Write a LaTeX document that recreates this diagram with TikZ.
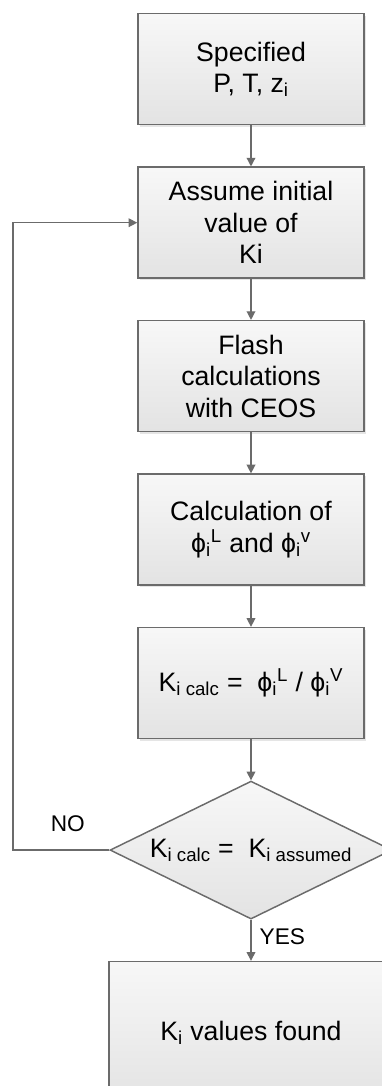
\documentclass[tikz,border=0pt]{standalone}
\usepackage{fontspec}
\setmainfont{Liberation Sans}
\usetikzlibrary{positioning,arrows.meta,shapes.geometric,shadows}
\tikzset{
  >={Triangle[length=6.5pt,width=6.5pt]},
  node distance=30.75pt,
  procbox/.style={draw=black!58,line width=1.1pt,minimum width=169.5pt,
    minimum height=83.25pt,align=center,inner sep=2pt,
    top color=white!97!black,bottom color=black!11,
    drop shadow={shadow xshift=1.5pt,shadow yshift=-1.5pt,fill=black!10,opacity=1},
    font=\fontsize{20}{23.6}\selectfont},
  decbox/.style={diamond,aspect=2,draw=black!58,line width=1.1pt,
    minimum width=211.5pt,minimum height=103.5pt,inner sep=0pt,
    top color=white!97!black,bottom color=black!11,
    font=\fontsize{20}{23.6}\selectfont},
  flow/.style={->,draw=black!58,line width=1pt},
  flowlbl/.style={font=\fontsize{17}{20}\selectfont,inner sep=2pt},
}
\newcommand{\phisym}{ϕ}

\begin{document}
\begin{tikzpicture}
  \useasboundingbox (0,0) rectangle (286.5pt,-814.5pt);
  \node[procbox,anchor=north] (spec) at (188.25pt,-9.75pt)
    {Specified\\P, T, z\textsubscript{i}};
  \node[procbox,below=of spec] (ini) {Assume initial\\value of\\Ki};
  \node[procbox,below=of ini] (flash) {Flash\\calculations\\with CEOS};
  \node[procbox,below=of flash] (fug)
    {Calculation of\\\phisym\textsubscript{i}\textsuperscript{L} and \phisym\textsubscript{i}\textsuperscript{v}};
  \node[procbox,below=of fug] (kcalc)
    {K\textsubscript{i calc} =\ \ \phisym\textsubscript{i}\textsuperscript{L} / \phisym\textsubscript{i}\textsuperscript{V}};
  \node[decbox,below=of kcalc] (dia)
    {K\textsubscript{i calc} =\ \ K\textsubscript{i assumed}};
  \node[procbox,below=of dia,minimum width=213pt,minimum height=106.5pt] (found)
    {K\textsubscript{i} values found};
  \coordinate (loopx) at (9.75pt,0);
  % main chain
  \draw[flow] (spec) -- (ini);
  \draw[flow] (ini) -- (flash);
  \draw[flow] (flash) -- (fug);
  \draw[flow] (fug) -- (kcalc);
  \draw[flow] (kcalc) -- (dia);
  \draw[flow] (dia) -- node[flowlbl,right=4pt,pos=0.42] (yes) {YES} (found);
  % back to the guess
  \draw[flow] (dia.west) -- node[flowlbl,above=11pt,pos=0.43] (no) {NO}
    (dia.west -| loopx) |- (ini.west);
\end{tikzpicture}
\end{document}
